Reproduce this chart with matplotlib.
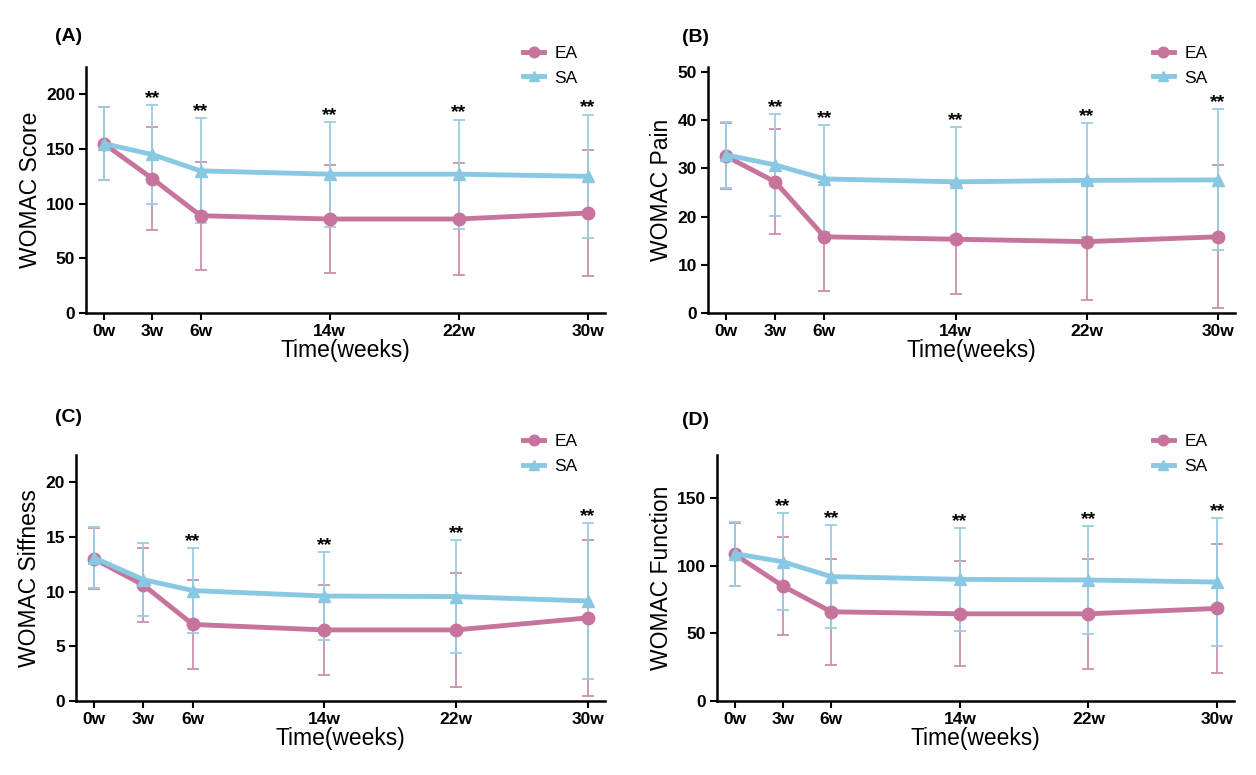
import matplotlib
matplotlib.use("Agg")
import matplotlib.pyplot as plt
import numpy as np

plt.rcParams['font.family'] = ['Liberation Sans', 'DejaVu Sans']

weeks = [0, 3, 6, 14, 22, 30]
week_labels = ['0w', '3w', '6w', '14w', '22w', '30w']

# WOMAC score
score_ea = [155, 123, 89, 86, 86, 91.5]
score_ea_sd = [33, 47, 49.5, 49.5, 51, 57.5]
score_sa = [155, 145, 130, 127, 127, 125]
score_sa_sd = [33.5, 45.5, 48, 48, 50, 56.5]

# WOMAC pain
pain_ea = [32.5, 27.2, 15.8, 15.3, 14.8, 15.8]
pain_ea_sd = [6.8, 10.9, 11.3, 11.3, 12.0, 14.8]
pain_sa = [32.8, 30.7, 27.8, 27.2, 27.5, 27.6]
pain_sa_sd = [6.8, 10.6, 11.1, 11.3, 11.8, 14.6]

# WOMAC stiffness
stiff_ea = [13.0, 10.6, 7.0, 6.5, 6.5, 7.6]
stiff_ea_sd = [2.8, 3.4, 4.1, 4.1, 5.2, 7.1]
stiff_sa = [13.1, 11.1, 10.1, 9.6, 9.55, 9.15]
stiff_sa_sd = [2.8, 3.35, 3.9, 4.05, 5.2, 7.1]

# WOMAC function
func_ea = [108.5, 85, 66, 64.5, 64.5, 68.5]
func_ea_sd = [23.5, 36.5, 39.2, 38.9, 40.8, 48]
func_sa = [109, 103, 92, 90, 89.5, 88]
func_sa_sd = [23.6, 35.8, 38.2, 37.9, 39.9, 47.5]

sig_abd = [1, 2, 3, 4, 5]
sig_c = [2, 3, 4, 5]

ea_color = '#C7749D'
sa_color = '#88C8E2'
ea_err = '#CC8FAE'
sa_err = '#9CCDE3'

fig = plt.figure(figsize=(12.56, 7.75), dpi=100)

panels = [
    # label, ylabel, ea, ea_sd, sa, sa_sd, ylim, yticks, sig, axes rect, label pos, legend pos
    ('(A)', 'WOMAC Score', score_ea, score_ea_sd, score_sa, score_sa_sd,
     225, np.arange(0, 201, 50), sig_abd, [0.0685, 0.5961, 0.4132, 0.3174], (0.044, 0.953), (0.411, 0.950)),
    ('(B)', 'WOMAC Pain', pain_ea, pain_ea_sd, pain_sa, pain_sa_sd,
     51, np.arange(0, 51, 10), sig_abd, [0.5637, 0.5961, 0.4196, 0.3174], (0.543, 0.952), (0.9124, 0.950)),
    ('(C)', 'WOMAC Siffness', stiff_ea, stiff_ea_sd, stiff_sa, stiff_sa_sd,
     22.5, np.arange(0, 21, 5), sig_c, [0.0605, 0.0955, 0.4212, 0.3174], (0.044, 0.461), (0.411, 0.449)),
    ('(D)', 'WOMAC Function', func_ea, func_ea_sd, func_sa, func_sa_sd,
     182, np.arange(0, 151, 50), sig_abd, [0.5709, 0.0955, 0.4116, 0.3174], (0.543, 0.458), (0.9124, 0.449)),
]

for (lab, ylab, ea, ea_sd, sa, sa_sd, ytop, yticks, sig, rect, labpos, legpos) in panels:
    ax = fig.add_axes(rect)
    ax.errorbar(weeks, ea, yerr=ea_sd, fmt='none', ecolor=ea_err, elinewidth=1.3,
                capsize=4.5, capthick=1.3, zorder=2)
    ax.errorbar(weeks, sa, yerr=sa_sd, fmt='none', ecolor=sa_err, elinewidth=1.3,
                capsize=4.5, capthick=1.3, zorder=2)
    ax.plot(weeks, ea, color=ea_color, lw=3.5, marker='o', ms=9, label='EA', zorder=3)
    ax.plot(weeks, sa, color=sa_color, lw=3.5, marker='^', ms=9, label='SA', zorder=4)

    for i in sig:
        ax.annotate('**', (weeks[i], sa[i] + sa_sd[i]), xytext=(0, 1.5),
                    textcoords='offset points', ha='center', va='baseline',
                    fontsize=14, fontweight='bold')

    ax.set_xlim(-1.1, 31.05)
    ax.set_ylim(0, ytop)
    ax.set_xticks(weeks)
    ax.set_xticklabels(week_labels)
    ax.set_yticks(yticks)
    for t in ax.get_xticklabels() + ax.get_yticklabels():
        t.set_fontweight('bold')
        t.set_fontsize(12.5)
    ax.tick_params(axis='both', width=1.5, length=5, pad=3)
    ax.spines['top'].set_visible(False)
    ax.spines['right'].set_visible(False)
    ax.spines['left'].set_linewidth(1.8)
    ax.spines['bottom'].set_linewidth(1.8)
    ax.set_xlabel('Time(weeks)', fontsize=16.5, labelpad=0)
    ax.set_ylabel(ylab, fontsize=16.5, labelpad=3)

    fig.text(labpos[0], labpos[1], lab, fontsize=14, fontweight='bold', va='center')
    ax.legend(loc='upper left', bbox_to_anchor=legpos, bbox_transform=fig.transFigure,
              frameon=False, fontsize=12.5, handlelength=1.2, handletextpad=0.6,
              labelspacing=0.55, borderaxespad=0, markerscale=0.85)

fig.savefig('out.png', dpi=100)
